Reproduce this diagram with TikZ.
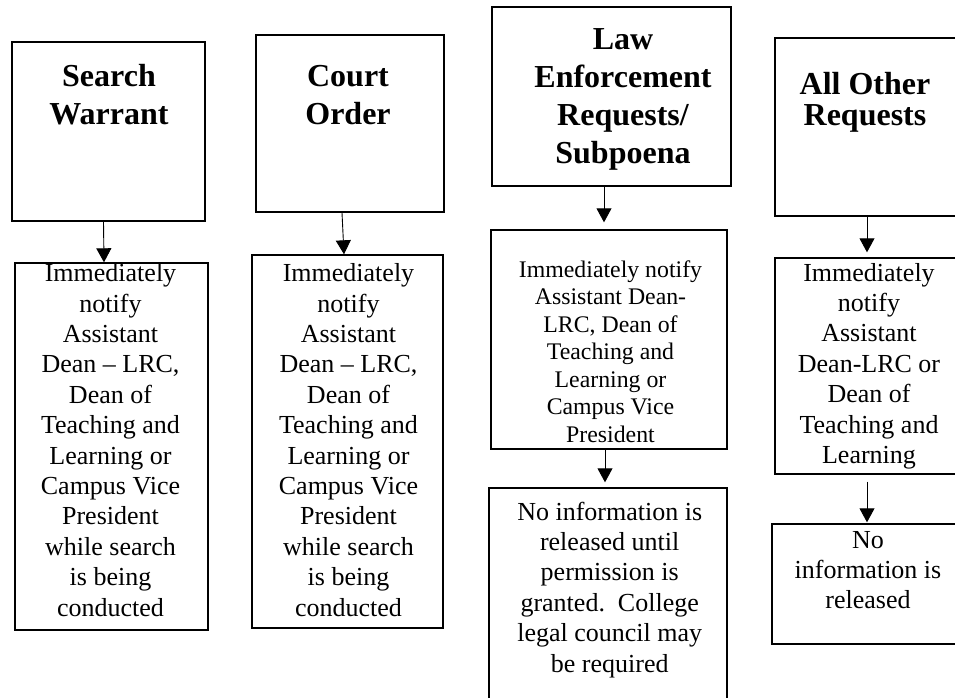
\documentclass[tikz,border=0pt]{standalone}
\usepackage{fontspec}
\setmainfont{Liberation Serif}
\usetikzlibrary{arrows.meta}
\tikzset{
  box/.style={draw=black, line width=1.4pt, rectangle, inner sep=0pt},
  arr/.style={draw=black, line width=0.9pt, -{Triangle[width=15pt,length=14pt]}},
  txt/.style={anchor=base, inner sep=0pt, text=black},
}
\newcommand{\ttl}[1]{\parbox[t]{260pt}{\bfseries\fontsize{32}{38}\selectfont\centering #1}}
\newcommand{\ttlb}[1]{\parbox[t]{260pt}{\bfseries\fontsize{32}{30.7}\selectfont\centering #1}}
\newcommand{\bdy}[1]{\parbox[t]{260pt}{\fontsize{26}{30.4}\selectfont\centering #1}}
\newcommand{\bdys}[1]{\parbox[t]{260pt}{\fontsize{23.8}{27.5}\selectfont\centering #1}}
\begin{document}
\begin{tikzpicture}[x=1pt,y=-1pt]
\useasboundingbox (0,0) rectangle (955,698);
\clip (0,0) rectangle (955,698);
\fill[white] (0,0) rectangle (955,698);
% top boxes
\node[box, minimum width=193pt, minimum height=179pt] (sw) at (108.5,131.5) {};
\node[box, minimum width=188pt, minimum height=177pt] (co) at (350,123.5) {};
\node[box, minimum width=239pt, minimum height=179pt] (le) at (611.5,96.5) {};
\node[box, minimum width=200pt, minimum height=178pt] (ao) at (875,127) {};
% second row
\node[box, minimum width=193pt, minimum height=367pt] (n1) at (111.5,446.5) {};
\node[box, minimum width=191pt, minimum height=373pt] (n2) at (347.5,441.5) {};
\node[box, minimum width=236pt, minimum height=219pt] (n3) at (609,339.5) {};
\node[box, minimum width=190pt, minimum height=216pt] (n4) at (870,366) {};
% third row
\node[box, minimum width=238pt, minimum height=232pt] (r3) at (608,604) {};
\node[box, minimum width=193pt, minimum height=120pt] (r4) at (868.5,584) {};
% titles
\node[txt] (swt) at (109,87) {\ttl{Search\\Warrant}};
\node[txt] (cot) at (348,87) {\ttl{Court\\Order}};
\node[txt] (let) at (623,50) {\ttl{Law\\Enforcement\\Requests/\\Subpoena}};
\node[txt] (aot) at (865,95) {\ttlb{All Other\\Requests}};
% body texts
\node[txt] (n1t) at (110.5,281.7) {\bdy{Immediately\\notify\\Assistant\\Dean – LRC,\\Dean of\\Teaching and\\Learning or\\Campus Vice\\President\\while search\\is being\\conducted}};
\node[txt] (n2t) at (348.5,281.7) {\bdy{Immediately\\notify\\Assistant\\Dean – LRC,\\Dean of\\Teaching and\\Learning or\\Campus Vice\\President\\while search\\is being\\conducted}};
\node[txt] (n3t) at (610.5,277) {\bdys{Immediately notify\\Assistant Dean-\\LRC, Dean of\\Teaching and\\Learning or\\Campus Vice\\President}};
\node[txt] (r3t) at (609.7,520) {\bdy{No information is\\released until\\permission is\\granted.\ \ College\\legal council may\\be required}};
\node[txt] (n4t) at (869,281) {\bdy{Immediately\\notify\\Assistant\\Dean-LRC or\\Dean of\\Teaching and\\Learning}};
\node[txt] (r4t) at (868,548) {\bdy{No\\information is\\released}};
% connectors
\draw[arr] ([xshift=-5pt]sw.south) -- ([xshift=-7.5pt]n1.north);
\draw[arr] ([xshift=-8pt]co.south) -- ([xshift=-3.5pt]n2.north);
\draw[arr, shorten >=7pt] ([xshift=-7.5pt]le.south) -- ([xshift=-5pt]n3.north);
\draw[arr, shorten >=5pt] ([xshift=-4pt]n3.south) -- ([xshift=-3pt]r3.north);
\draw[arr, shorten >=5pt] ([xshift=-8pt]ao.south) -- ([xshift=-3pt]n4.north);
\draw[arr, shorten <=7pt, shorten >=1pt] ([xshift=-3pt]n4.south) -- ([xshift=-1.5pt]r4.north);
\end{tikzpicture}
\end{document}
